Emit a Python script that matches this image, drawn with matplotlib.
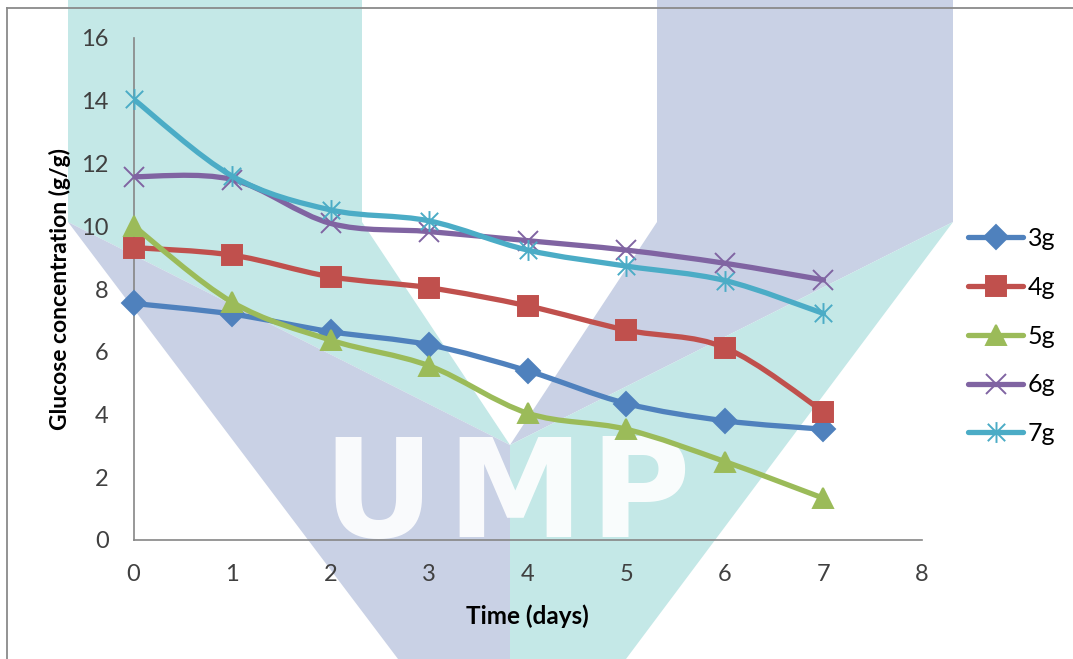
import numpy as np
import matplotlib
matplotlib.use("Agg")
import matplotlib.pyplot as plt
from matplotlib.path import Path
from matplotlib.patches import PathPatch, Polygon
from matplotlib.lines import Line2D

# glucose concentration (g/g) per day, one list per sample mass
days = [0, 1, 2, 3, 4, 5, 6, 7]
g3 = [7.54, 7.20, 6.64, 6.22, 5.39, 4.35, 3.80, 3.53]
g4 = [9.32, 9.08, 8.39, 8.04, 7.46, 6.69, 6.13, 4.09]
g5 = [10.01, 7.58, 6.37, 5.55, 4.04, 3.53, 2.50, 1.33]
g6 = [11.58, 11.49, 10.09, 9.83, 9.54, 9.24, 8.82, 8.29]
g7 = [14.05, 11.60, 10.52, 10.17, 9.24, 8.73, 8.27, 7.22]
labels = ["3g", "4g", "5g", "6g", "7g"]

W, H = 1073, 659
fig = plt.figure(figsize=(W / 100, H / 100), dpi=100)


def fxy(x, y):
    # pixel position (origin top-left) -> figure fraction
    return (x / W, 1 - y / H)


# background logo: two-tone V
teal = "#c4e8e7"
lav = "#c9d1e5"
shapes = [
    (teal, [(68, 0), (362, 0), (362, 222), (510, 445), (68, 222)]),
    (lav, [(68, 222), (510, 445), (510, 659), (398, 659)]),
    (lav, [(657, 0), (953, 0), (953, 222), (510, 445), (657, 222)]),
    (teal, [(953, 222), (626, 659), (510, 659), (510, 445)]),
]
for col, pts in shapes:
    fig.add_artist(Polygon([fxy(*p) for p in pts], closed=True, facecolor=col,
                           edgecolor="none", transform=fig.transFigure, zorder=-3))
for ch, cx in zip("UMP", [378, 515, 640]):
    fig.text(*fxy(cx, 537), ch, ha="center", va="baseline", fontsize=99,
             fontweight="bold", family="DejaVu Sans", color="white", alpha=0.9, zorder=-2)

# chart area frame
fig.add_artist(Line2D([7 / W, 7 / W], [1 - 8 / H, 0], color="#8a8a8a", lw=1.3,
                      transform=fig.transFigure, zorder=-1))
fig.add_artist(Line2D([7 / W, 1], [1 - 8 / H, 1 - 8 / H], color="#8a8a8a", lw=1.3,
                      transform=fig.transFigure, zorder=-1))

x0, x1 = 133.6, 922
y0, y1 = 540, 38
ax = fig.add_axes([x0 / W, 1 - y0 / H, (x1 - x0) / W, (y0 - y1) / H])
ax.set_facecolor("none")
ax.set_xlim(0, 8)
ax.set_ylim(0, 16)
ax.set_xticks(range(0, 9))
ax.set_yticks(range(0, 17, 2))
for s in ["top", "right"]:
    ax.spines[s].set_visible(False)
for s in ["left", "bottom"]:
    ax.spines[s].set_color("#868686")
    ax.spines[s].set_linewidth(1.2)
ax.tick_params(length=0, labelsize=17, labelcolor="#404040")
ax.tick_params(axis="y", pad=18)
ax.tick_params(axis="x", pad=17)
for t in ax.get_xticklabels() + ax.get_yticklabels():
    t.set_family("Lato")

ax.set_xlabel("Time (days)", family="Lato", fontweight="bold", fontsize=17.5, va="center")
ax.set_ylabel("Glucose concentration (g/g)", family="Lato", fontweight="bold",
              fontsize=16.5, va="center")
ax.xaxis.set_label_coords(0.5, (540 - 616) / (y0 - y1))
ax.yaxis.set_label_coords((60 - x0) / (x1 - x0), 0.5)


def smooth_path(xs, ys):
    # Catmull-Rom style bezier through the points
    p = np.column_stack([xs, ys]).astype(float)
    n = len(p)
    verts = [p[0]]
    codes = [Path.MOVETO]
    for i in range(n - 1):
        a = p[i - 1] if i > 0 else p[i]
        d = p[i + 2] if i + 2 < n else p[i + 1]
        verts += [p[i] + (p[i + 1] - a) / 6, p[i + 1] - (d - p[i]) / 6, p[i + 1]]
        codes += [Path.CURVE4] * 3
    return Path(verts, codes)


star = Path([(-1, -1), (1, 1), (-1, 1), (1, -1), (0, -1.2), (0, 1.2)],
            [Path.MOVETO, Path.LINETO, Path.MOVETO, Path.LINETO, Path.MOVETO, Path.LINETO])

colors = ["#4f81bd", "#c0504d", "#9bbb59", "#8064a2", "#4bacc6"]
markers = ["D", "s", "^", "x", star]
msizes = [12, 14, 14, 14, 15]
series = [g3, g4, g5, g6, g7]

handles = []
for k, (vals, col, mk, ms) in enumerate(zip(series, colors, markers, msizes)):
    z = 3 + k
    ax.add_patch(PathPatch(smooth_path(days, vals), fill=False, edgecolor=col, lw=3.8,
                           capstyle="round", joinstyle="round", zorder=z))
    ax.plot(days, vals, linestyle="none", marker=mk, ms=ms, color=col,
            mec=col, mew=1.4, zorder=z + 0.5, clip_on=False)
    handles.append(Line2D([], [], color=col, lw=3.8, marker=mk, ms=ms, mec=col,
                          mew=1.4, solid_capstyle="round"))

ax.legend(handles, labels, loc="center left", bbox_to_anchor=(968 / W, 1 - 336 / H),
          bbox_transform=fig.transFigure, frameon=False, borderpad=0, borderaxespad=0,
          handlelength=2.2, handletextpad=0.2, labelspacing=1.03,
          prop={"family": "Lato", "size": 18})

fig.savefig("out.png", dpi=100)
